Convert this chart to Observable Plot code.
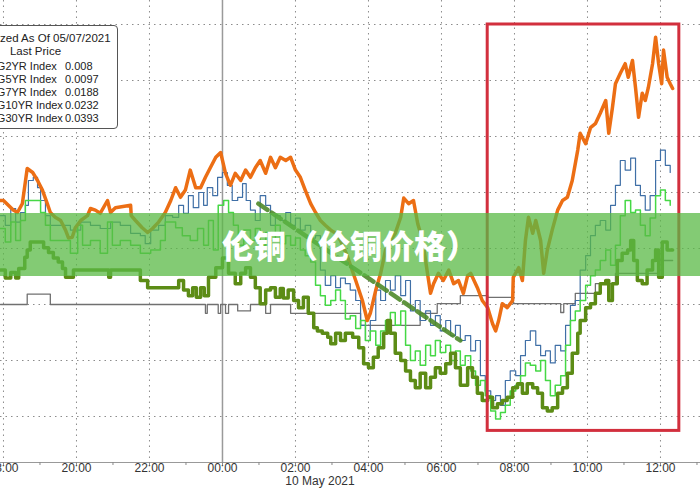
<!DOCTYPE html>
<html>
<head>
<meta charset="utf-8">
<script src="https://cdn.jsdelivr.net/npm/d3@7"></script>
<script src="https://cdn.jsdelivr.net/npm/@observablehq/plot@0.6"></script>
<style>
  html, body { margin: 0; padding: 0; background: #fff; }
  #wrap { position: relative; width: 700px; height: 490px; overflow: hidden; background: #fff; }
  #legend { position: absolute; left: -47px; top: 25px; width: 165px; height: 104px; box-sizing: border-box;
    border: 1px solid #555; border-radius: 4px; background: #fff; font-family: "Liberation Sans", Arial, sans-serif;
    font-size: 11.5px; color: #222; padding-top: 6px; line-height: 13px; }
  #legend .c { text-align: center; }
  #legend .row { position: relative; height: 13px; font-size: 11px; }
  #legend .sw { position: absolute; left: 3px; top: 6px; width: 12px; height: 2px; }
  #legend .nm { position: absolute; left: 19px; white-space: nowrap; }
  #legend .vl { position: absolute; left: 111px; white-space: nowrap; }
  #banner { position: absolute; left: 0; top: 213px; width: 700px; height: 63px; background: rgba(90,185,70,0.75);
    color: #fff; font-family: "Noto Sans CJK SC", sans-serif; font-weight: 900; font-size: 32px; line-height: 63px; text-align: center; }
  #date { position: absolute; left: 260px; width: 120px; top: 474px; text-align: center; font-family: "Liberation Sans", Arial, sans-serif; font-size: 12px; color: #333; }
</style>
</head>
<body>
<div id="wrap">
  <div id="chart"></div>
  <div id="legend"></div>
  <div id="banner">伦铜（伦铜价格）</div>
  <div id="date">10 May 2021</div>
</div>
<script>
// time = minutes since 9 May 2021 18:00, value = normalized change
const us2 = [[-5,0],[39,1.3],[77,0],[332,-1.1],[335,0],[353,-1.1],[357,0],[365,-1.1],[370,0],[385,-0.8],[406,0],[431,-1.1],[439,0],[472,-1.1],[587,-2.6],[685,-1.1],[713,0.1],[751,1.1],[796,0.9],[838,0.1],[916,-1.0],[921,0.1],[940,1.4],[973,2.6],[1006,3.9],[1077,5.5],[1100,5.5]];

const us5 = [[-5,11.1],[3,9.9],[12,12.0],[20,10.3],[28,11.5],[36,12.4],[41,15.5],[49,15.9],[56,14.6],[61,13.0],[69,11.1],[77,9.9],[94,9.9],[110,9.3],[127,10.3],[143,9.9],[159,9.5],[176,10.3],[192,9.9],[209,8.9],[225,8.6],[233,7.6],[242,9.3],[255,9.9],[266,11.1],[278,10.9],[288,12.4],[296,11.4],[304,13.6],[312,12.1],[321,14.0],[329,12.4],[335,14.6],[344,13.6],[352,15.9],[360,16.5],[368,14.9],[376,13.0],[385,13.4],[393,15.1],[399,13.0],[406,11.8],[414,10.5],[422,13.6],[431,12.4],[439,9.9],[447,11.1],[455,10.5],[464,11.5],[472,9.9],[480,10.8],[488,9.3],[496,9.9],[505,8.3],[513,8.6],[521,4.3],[529,2.4],[538,3.6],[546,2.1],[554,3.3],[562,2.6],[570,1.8],[579,0.5],[587,-2.6],[595,-4.5],[603,-2.0],[612,1.8],[620,0.5],[628,3.0],[636,1.8],[644,3.6],[653,1.1],[661,3.0],[669,-0.8],[677,0.5],[685,-2.0],[694,-0.8],[702,-2.6],[710,-1.4],[718,-3.3],[727,-2.0],[735,-3.9],[743,-2.6],[751,-4.5],[759,-3.9],[768,-5.8],[776,-4.5],[784,-8.9],[792,-10.8],[801,-12.0],[809,-11.4],[817,-12.6],[825,-9.5],[833,-8.3],[842,-8.9],[850,-6.4],[858,-4.5],[866,-3.3],[875,-5.1],[883,-6.4],[891,-5.8],[899,-7.3],[907,-5.1],[916,-5.8],[924,-2.6],[932,-0.1],[940,0.5],[948,4.3],[957,6.1],[965,8.6],[973,9.9],[981,10.5],[990,9.3],[998,12.4],[1006,14.9],[1014,18.0],[1022,16.8],[1031,18.3],[1039,14.9],[1047,13.6],[1055,11.8],[1063,13.6],[1072,18.0],[1080,19.3],[1088,17.4],[1096,16.5]];

const us7 = [[-5,9.5],[3,7.8],[12,10.3],[20,8.0],[28,10.5],[36,13.0],[56,13.0],[61,11.5],[69,9.9],[77,8.0],[94,8.0],[110,6.4],[122,9.9],[130,7.4],[143,8.0],[159,6.4],[171,10.3],[179,7.4],[192,8.0],[209,7.4],[225,6.4],[242,6.8],[258,8.0],[266,10.3],[283,9.6],[294,8.6],[307,8.0],[319,9.5],[329,7.4],[337,10.5],[345,6.8],[353,12.4],[362,13.0],[370,11.5],[378,9.9],[386,7.4],[395,9.3],[406,8.0],[414,9.5],[422,7.4],[431,9.0],[439,8.0],[447,9.9],[455,7.6],[464,8.6],[472,7.4],[480,8.3],[488,6.8],[496,6.1],[505,5.3],[513,2.4],[521,1.1],[529,-0.1],[538,0.5],[546,1.8],[554,0.5],[562,-1.8],[570,-1.4],[579,-3.0],[587,-2.0],[595,-4.5],[603,-3.3],[612,-5.1],[620,-3.3],[628,-2.0],[636,-1.0],[644,-2.6],[653,-0.8],[661,-5.1],[669,-7.0],[677,-5.8],[685,-7.6],[694,-5.1],[702,-6.4],[710,-4.5],[718,-6.0],[727,-5.1],[735,-7.0],[743,-5.8],[751,-7.6],[759,-6.4],[768,-8.3],[776,-10.1],[784,-9.5],[792,-11.4],[801,-13.3],[809,-14.3],[817,-13.5],[825,-12.6],[833,-10.8],[842,-10.1],[850,-8.9],[858,-7.3],[866,-7.6],[875,-8.3],[883,-7.0],[891,-9.5],[899,-11.4],[907,-10.1],[916,-8.9],[924,-5.1],[932,-2.0],[940,-0.8],[948,0.5],[957,2.4],[965,3.6],[973,4.3],[981,5.5],[990,6.8],[998,4.9],[1006,7.4],[1014,11.1],[1022,13.0],[1031,11.5],[1039,11.8],[1047,9.9],[1055,8.6],[1063,10.8],[1072,13.6],[1080,14.3],[1088,13.0],[1096,12.4]];

const us10 = [[-5,4.3],[3,3.3],[12,4.0],[20,3.3],[25,4.5],[35,5.9],[39,6.8],[44,7.8],[61,7.8],[66,7.1],[74,6.5],[82,5.8],[90,5.3],[97,4.5],[102,3.4],[115,4.3],[171,4.3],[173,3.4],[176,4.3],[214,4.3],[225,3.0],[237,2.1],[283,2.1],[288,3.0],[296,1.8],[304,1.1],[311,2.1],[317,0.9],[324,2.1],[330,1.1],[337,3.4],[349,4.6],[360,5.8],[370,3.9],[381,2.6],[390,3.9],[398,4.6],[406,3.4],[414,2.1],[422,0.1],[431,1.8],[439,2.1],[447,0.9],[455,2.0],[460,0.8],[468,1.8],[477,0.5],[485,-0.4],[493,0.9],[501,-1.1],[510,-2.9],[516,-3.3],[524,-3.6],[533,-4.1],[538,-4.9],[546,-3.6],[554,-4.5],[562,-3.6],[574,-4.1],[584,-5.4],[592,-7.4],[600,-7.9],[608,-6.6],[616,-5.4],[625,-3.6],[631,-2.0],[636,-3.6],[644,-6.1],[653,-7.0],[661,-8.3],[669,-9.5],[677,-10.4],[685,-8.6],[694,-10.4],[702,-9.1],[710,-7.9],[718,-8.6],[727,-7.4],[735,-6.1],[743,-7.9],[751,-10.1],[763,-7.9],[771,-9.1],[779,-11.1],[787,-12.0],[796,-11.6],[804,-12.9],[812,-12.4],[820,-12.0],[828,-11.6],[837,-10.4],[845,-9.9],[853,-11.1],[861,-9.9],[870,-10.4],[878,-11.1],[886,-12.9],[894,-13.3],[902,-12.9],[911,-11.1],[919,-10.4],[927,-8.6],[935,-6.1],[944,-3.6],[948,-2.0],[957,-0.4],[965,0.1],[973,1.4],[981,2.6],[990,3.0],[995,0.5],[1001,2.6],[1009,5.5],[1017,6.4],[1026,6.8],[1031,8.0],[1036,5.5],[1042,3.0],[1050,2.6],[1058,4.3],[1067,5.5],[1072,6.8],[1077,3.4],[1083,7.8],[1091,6.8],[1100,6.8]];

const us30 = [[-5,13.0],[0,13.0],[8,12.4],[16,11.8],[23,11.5],[31,12.6],[39,17.0],[48,16.5],[56,15.5],[64,14.3],[72,12.6],[77,11.5],[85,10.9],[94,10.5],[102,9.3],[107,8.3],[113,8.4],[118,9.6],[127,10.5],[138,11.1],[143,12.0],[151,11.8],[159,11.4],[171,13.0],[176,11.5],[184,12.1],[209,12.4],[210,11.1],[217,10.5],[228,9.6],[237,9.0],[245,9.5],[255,10.3],[266,11.5],[275,13.0],[283,14.6],[291,13.4],[299,14.3],[307,16.8],[316,14.6],[324,14.6],[332,15.9],[340,17.1],[349,18.4],[357,19.0],[365,16.4],[373,14.9],[381,16.4],[390,15.5],[398,16.8],[406,15.9],[414,17.1],[422,18.0],[431,16.4],[439,18.4],[447,17.1],[455,18.4],[464,18.0],[472,18.4],[480,16.8],[488,15.9],[496,14.3],[505,12.6],[513,11.5],[521,10.5],[529,9.9],[538,9.3],[546,8.9],[554,8.0],[565,6.1],[579,3.0],[590,0.5],[598,-2.0],[603,-1.1],[612,1.8],[620,3.9],[628,6.8],[636,8.0],[644,8.9],[653,10.9],[658,13.3],[666,12.6],[674,13.0],[681,10.1],[689,8.0],[697,3.9],[702,1.4],[707,2.6],[715,3.9],[723,3.0],[732,4.3],[740,2.6],[748,3.0],[756,1.4],[763,3.6],[768,3.9],[779,2.1],[787,0.5],[796,-0.4],[804,-2.4],[809,-3.3],[814,-2.0],[820,0.1],[828,-0.4],[837,0.5],[838,3.4],[847,4.6],[853,3.0],[858,8.0],[863,10.9],[870,8.9],[875,10.5],[883,8.0],[888,3.9],[894,6.8],[902,9.3],[911,11.8],[919,13.0],[927,13.4],[935,15.5],[944,19.3],[948,21.4],[957,20.1],[965,22.1],[973,22.6],[981,23.9],[990,25.5],[995,21.4],[1001,24.6],[1006,27.6],[1014,28.9],[1022,30.1],[1027,28.4],[1034,30.5],[1039,27.1],[1044,23.4],[1050,26.4],[1055,25.5],[1060,27.1],[1067,30.1],[1072,33.4],[1077,30.1],[1082,27.6],[1085,31.8],[1091,28.4],[1096,27.6],[1100,27.0]];

const legendTitle = "Normalized As Of 05/07/2021";
const legendSub = "Last Price";
const names = ["USGG2YR Index", "USGG5YR Index", "USGG7YR Index", "USGG10YR Index", "USGG30YR Index"];
const lastPrice = ["0.008", "0.0097", "0.0188", "0.0232", "0.0393"];
const colors = ["#707070", "#3f6fa6", "#45d845", "#5c8c16", "#ec6e14"];
const widths = [1.3, 1.2, 1.5, 3.5, 3.5];
const curves = ["step-after", "step-after", "step-after", "step-after", "linear"];
const seriesData = [us2, us5, us7, us10, us30];

const gridValues = [-14, -7, 0, 7, 14, 21, 28, 35];
const gridMinutes = [0, 120, 240, 360, 480, 600, 720, 840, 960, 1080];
const hourMinutes = [60, 180, 300, 420, 540, 660, 780, 900, 1020, 1140];
const midnight = [360];
const highlight = {start: 796, end: 1111, low: -15.8, high: 35.0};
const trend = [[419, 12.6], [751, -4.5]];
const xDomainMin = [-4.9, 1145.8];
const yDomain = [-19.75, 38];

const base = Date.UTC(2021, 4, 9, 18, 0);
const T = m => new Date(base + m * 60000);

const lineMarks = seriesData.map((arr, i) =>
  Plot.line(arr, {x: d => T(d[0]), y: d => d[1], stroke: colors[i], strokeWidth: widths[i], curve: curves[i], strokeLinejoin: "round"})
);

const chart = Plot.plot({
  width: 700, height: 490,
  marginLeft: 0, marginRight: 0, marginTop: 0, marginBottom: 28,
  x: {type: "utc", domain: xDomainMin.map(T)},
  y: {domain: yDomain, axis: null},
  style: {fontFamily: "Liberation Sans, Arial, sans-serif", fontSize: "12px", color: "#333", background: "#fff"},
  marks: [
    Plot.ruleY(gridValues, {stroke: "#8c8c8c", strokeWidth: 1, strokeDasharray: "1.5,4"}),
    Plot.ruleX(gridMinutes.map(T), {stroke: "#8c8c8c", strokeWidth: 1, strokeDasharray: "1.5,4"}),
    Plot.ruleX(midnight.map(T), {stroke: "#9a9a9a", strokeWidth: 1.5}),
    Plot.ruleY([yDomain[0]], {stroke: "#999", strokeWidth: 1.2}),
    ...lineMarks,
    Plot.line(trend, {x: d => T(d[0]), y: d => d[1], stroke: "#4f8a2a", strokeWidth: 4.5, strokeDasharray: "11,5", strokeOpacity: 0.9}),
    Plot.rect([highlight], {x1: d => T(d.start), x2: d => T(d.end), y1: "low", y2: "high", fill: "none", stroke: "#d22f3d", strokeWidth: 3}),
    Plot.axisX({ticks: hourMinutes.map(T), tickFormat: () => "", tickSize: 3, stroke: "#888", label: null}),
    Plot.axisX({ticks: gridMinutes.map(T), tickFormat: d3.utcFormat("%H:%M"), tickSize: 3, stroke: "#888", tickPadding: -2, fontSize: 12, label: null})
  ]
});
document.getElementById("chart").appendChild(chart);

// legend
const lg = document.getElementById("legend");
let html = `<div class="c">${legendTitle}</div><div class="c" style="margin-bottom:2px">${legendSub}</div>`;
names.forEach((n, i) => {
  html += `<div class="row"><span class="sw" style="background:${colors[i]}"></span><span class="nm">${n}</span><span class="vl">${lastPrice[i]}</span></div>`;
});
lg.innerHTML = html;
</script>
</body>
</html>
